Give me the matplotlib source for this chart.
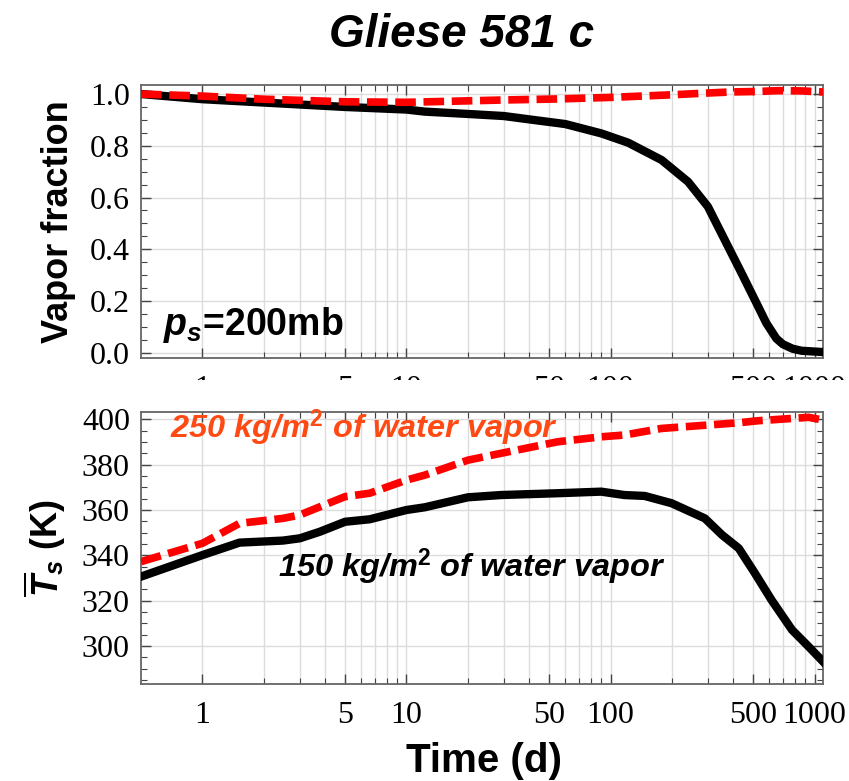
import matplotlib
matplotlib.use("Agg")
import matplotlib.pyplot as plt
from matplotlib.ticker import FixedLocator, FixedFormatter, MultipleLocator, NullFormatter
from matplotlib.patches import Rectangle

plt.rcParams['font.family'] = ['Liberation Sans', 'DejaVu Sans']
plt.rcParams['mathtext.fontset'] = 'custom'
plt.rcParams['mathtext.rm'] = 'Liberation Sans:bold'
plt.rcParams['mathtext.bf'] = 'Liberation Sans:bold'
plt.rcParams['mathtext.it'] = 'Liberation Sans:bold:italic'

# ---- data -------------------------------------------------------------
# vapor fraction vs time (days), 150 and 250 kg/m^2 of water vapor
t_vf150 = [0.5, 1, 5, 10, 12.3, 20, 30, 40, 60, 90, 122, 178, 240, 300,
           363, 438, 529, 580, 650, 700, 780, 864, 1100]
vf150 = [1.0, 0.98, 0.95, 0.94, 0.932, 0.923, 0.915, 0.902, 0.884, 0.848,
         0.812, 0.745, 0.661, 0.565, 0.436, 0.309, 0.179, 0.115, 0.055,
         0.033, 0.016, 0.008, 0.003]
t_vf250 = [0.5, 1, 2, 5, 10, 30, 55, 100, 199, 300, 392, 529, 661, 864, 1100]
vf250 = [1.0, 0.992, 0.980, 0.970, 0.968, 0.977, 0.981, 0.987, 0.997,
         1.004, 1.008, 1.010, 1.013, 1.012, 1.008]

# mean surface temperature (K) vs time (days)
t_ts150 = [0.5, 1, 1.52, 2.48, 3.0, 3.76, 5.0, 6.6, 10, 12.3, 20, 29, 55, 90,
           117, 147, 199, 290, 352, 425, 510, 615, 775, 935, 1100]
ts150 = [330.6, 340.1, 345.6, 346.5, 347.5, 350.4, 354.8, 355.9, 360.0,
         361.2, 365.6, 366.6, 367.4, 368.1, 366.6, 366.2, 363.0, 356.3, 349.0,
         343.1, 332.1, 320.3, 307.1, 299.7, 293.1]
t_ts250 = [0.5, 1, 1.52, 2.48, 3, 3.76, 5, 6.6, 10, 12.3, 20, 29, 55, 90, 117,
           178, 300, 425, 529, 775, 935, 1100]
ts250 = [337.2, 345.3, 354.1, 356.3, 357.8, 361.4, 365.9, 367.4, 373.2, 375.4,
         382.0, 385.0, 390.1, 392.3, 393.1, 396.0, 397.5, 398.5, 399.4, 400.4,
         400.9, 399.7]

xtick_vals = [1, 5, 10, 50, 100, 500, 1000]
xtick_labels = ['1', '5', '10', '50', '100', '500', '1000']
grid_x = [m * 10 ** e for e in range(0, 4) for m in range(1, 10)]

# ---- figure -----------------------------------------------------------
fig = plt.figure(figsize=(8.49, 7.81), dpi=100)
ax1 = fig.add_axes([0.1661, 0.5416, 0.8033, 0.3496])
ax2 = fig.add_axes([0.1661, 0.1242, 0.8033, 0.3487])

spine_col = '#666666'


def style(ax, yticks, yminor):
    ax.set_xscale('log')
    ax.set_xlim(0.5, 1100)
    ax.xaxis.set_major_locator(FixedLocator(xtick_vals))
    ax.xaxis.set_major_formatter(FixedFormatter(xtick_labels))
    ax.xaxis.set_minor_locator(FixedLocator(grid_x))
    ax.xaxis.set_minor_formatter(NullFormatter())
    ax.yaxis.set_major_locator(FixedLocator(yticks))
    ax.yaxis.set_minor_locator(MultipleLocator(yminor))
    for x in grid_x:
        if x < 1100:
            ax.axvline(x, color='#dcdcdc', lw=1.0, zorder=0)
    for y in yticks:
        ax.axhline(y, color='#dcdcdc', lw=1.0, zorder=0)
    ax.tick_params(which='both', direction='in', top=True, right=True,
                   color='#444444')
    ax.tick_params(which='major', length=7, width=1.0, pad=12)
    ax.tick_params(which='minor', length=4, width=0.8)
    ax.tick_params(axis='y', which='major', pad=8)
    for lab in ax.get_xticklabels():
        lab.set_fontfamily('Liberation Serif')
        lab.set_fontsize(23)
    for s in ax.spines.values():
        s.set_color(spine_col)
        s.set_linewidth(1.3)


# top panel: vapor fraction
style(ax1, [0.0, 0.2, 0.4, 0.6, 0.8, 1.0], 0.05)
ax1.set_ylim(-0.02, 1.035)
ax1.set_yticklabels(['0.0', '0.2', '0.4', '0.6', '0.8', '1.0'],
                    fontfamily='Liberation Serif', fontsize=23)
ax1.plot(t_vf150, vf150, color='black', lw=6, solid_joinstyle='round',
         zorder=3)
ax1.plot(t_vf250, vf250, color='#ff0000', lw=5.5, dashes=(2.7, 1.0),
         dash_capstyle='butt', zorder=4)
ax1.set_ylabel('Vapor fraction', fontsize=26, fontweight='bold', labelpad=10)
ax1.text(0.032, 0.084, r'$p_{s}$=200mb', transform=ax1.transAxes,
         fontsize=27, fontweight='bold', va='baseline', ha='left')

# bottom panel: mean surface temperature
style(ax2, [300, 320, 340, 360, 380, 400], 5)
ax2.set_ylim(283.2, 403.4)
ax2.set_yticklabels(['300', '320', '340', '360', '380', '400'],
                    fontfamily='Liberation Serif', fontsize=23)
ax2.plot(t_ts150, ts150, color='black', lw=6, solid_joinstyle='round',
         zorder=3)
ax2.plot(t_ts250, ts250, color='#ff0000', lw=5.5, dashes=(2.7, 1.0),
         dash_capstyle='butt', zorder=4)
ax2.set_ylabel(r'$\overline{T}_{s}$ (K)', fontsize=26, fontweight='bold',
               labelpad=10)
ax2.text(0.0425, 0.903, r'250 kg/m$^{2}$ of water vapor',
         transform=ax2.transAxes, fontsize=23.4, fontweight='bold',
         fontstyle='italic', color='#ff4a14', va='baseline', ha='left',
         zorder=5)
ax2.text(0.2009, 0.393, r'150 kg/m$^{2}$ of water vapor',
         transform=ax2.transAxes, fontsize=23.4, fontweight='bold',
         fontstyle='italic', color='black', va='baseline', ha='left',
         zorder=5)

fig.text(0.570, 0.0115, 'Time (d)', fontsize=29, fontweight='bold',
         ha='center', va='baseline')
fig.text(0.544, 0.94, 'Gliese 581 c', fontsize=33, fontweight='bold',
         fontstyle='italic', ha='center', va='baseline')

# the upper panel's time labels are cut off just below their top edge
fig.patches.append(Rectangle((0.0, 1 - 407 / 781), 1.0, (407 - 380) / 781,
                             transform=fig.transFigure, facecolor='white',
                             edgecolor='none', zorder=10))

fig.savefig('out.png', dpi=100)
